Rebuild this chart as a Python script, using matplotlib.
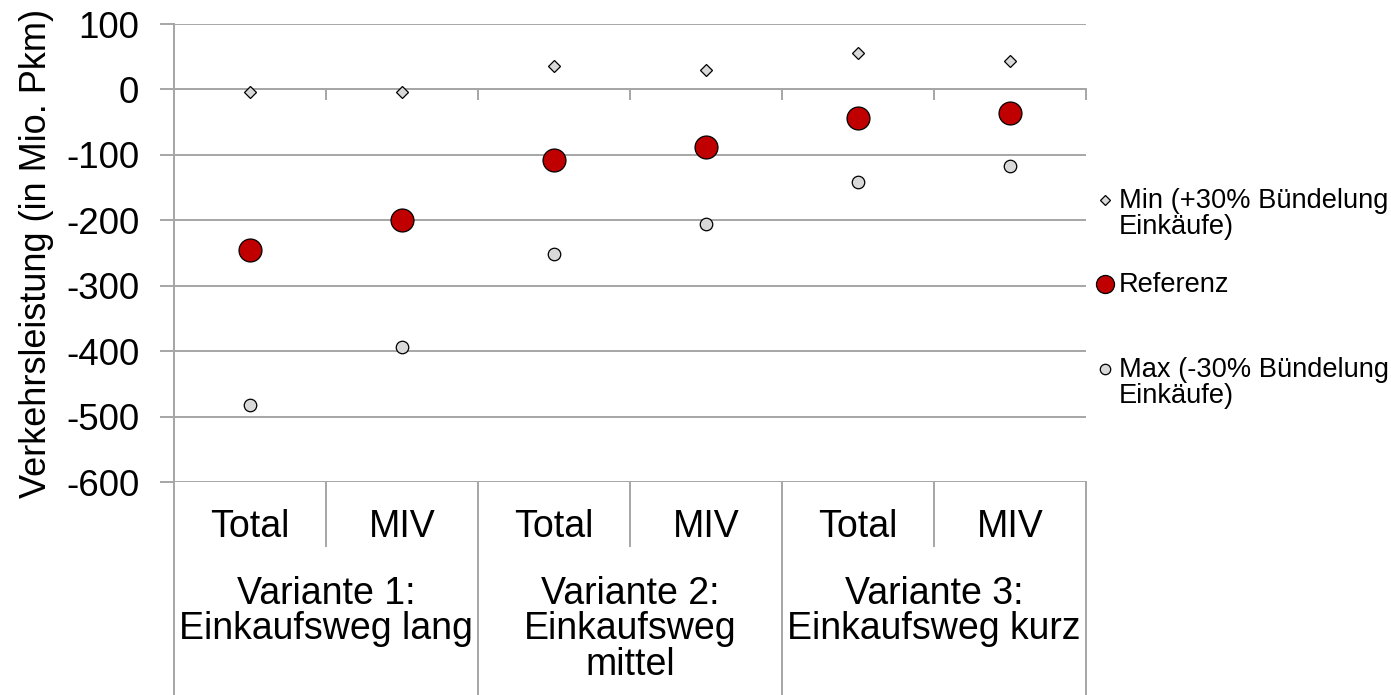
import matplotlib
matplotlib.use("Agg")
import matplotlib.pyplot as plt
from matplotlib.lines import Line2D
import numpy as np

plt.rcParams['font.family'] = ['Liberation Sans', 'DejaVu Sans']
plt.rcParams['axes.unicode_minus'] = False

categories = ["Total", "MIV", "Total", "MIV", "Total", "MIV"]
groups = ["Variante 1:\nEinkaufsweg lang", "Variante 2:\nEinkaufsweg\nmittel", "Variante 3:\nEinkaufsweg kurz"]
min_vals = [-4, -4, 36, 29, 55, 44]
ref_vals = [-245, -200, -108, -88, -44, -36]
max_vals = [-482, -393, -251, -205, -142, -117]
yticks = [100, 0, -100, -200, -300, -400, -500, -600]
series_labels = ["Min (+30% Bündelung\nEinkäufe)", "Referenz", "Max (-30% Bündelung\nEinkäufe)"]

W, H = 1391, 695
fig = plt.figure(figsize=(W / 100, H / 100), dpi=100)
L, R, T, B = 174, 1086, 24, 482
ax = fig.add_axes([L / W, 1 - B / H, (R - L) / W, (B - T) / H])

grid_c = "#a6a6a6"
x = np.arange(len(categories))
ax.set_xlim(-0.5, len(categories) - 0.5)
ax.set_ylim(-600, 100)
ax.set_yticks(yticks)
ax.yaxis.grid(True, color=grid_c, linewidth=1.4)
ax.set_axisbelow(True)
ax.tick_params(axis='y', length=10, width=1.4, color=grid_c, labelsize=26.5, pad=15)
for s in ["top", "right"]:
    ax.spines[s].set_visible(False)
ax.spines["left"].set_color(grid_c)
ax.spines["left"].set_linewidth(1.4)
ax.spines["left"].set_bounds(-600, 100)
ax.spines["bottom"].set_position(("data", 0))
ax.spines["bottom"].set_color(grid_c)
ax.spines["bottom"].set_linewidth(1.4)
ax.set_xticks(np.arange(0.5, len(categories), 1.0))
ax.tick_params(axis='x', length=8, width=1.4, color=grid_c, labelbottom=False, direction='out')

ax.plot(x, max_vals, linestyle='none', marker='o', markersize=9, markerfacecolor="#d9d9d9",
        markeredgecolor="black", markeredgewidth=0.9, zorder=3)
ax.plot(x, min_vals, linestyle='none', marker='D', markersize=6.5, markerfacecolor="#d9d9d9",
        markeredgecolor="black", markeredgewidth=0.9, zorder=3)
ax.plot(x, ref_vals, linestyle='none', marker='o', markersize=16.5, markerfacecolor="#c00000",
        markeredgecolor="black", markeredgewidth=0.9, zorder=4)

ax.set_ylabel("Verkehrsleistung (in Mio. Pkm)", fontsize=26)
ax.yaxis.set_label_coords(-0.132, 0.5)

# hierarchical category axis
tr = ax.get_xaxis_transform()
def frac(py):
    return (B - py) / (B - T)
bottom_f = frac(H + 2)
ax.add_line(Line2D([-0.5, -0.5], [1, bottom_f], transform=tr, color=grid_c, lw=1.4, clip_on=False))
for i in range(len(categories)):
    ax.text(x[i], frac(527), categories[i], transform=tr, ha='center', va='center', fontsize=27)
for b in np.arange(0.5, len(categories), 1.0):
    if int(b + 0.5) % 2 == 1:
        ax.add_line(Line2D([b, b], [0, frac(546)], transform=tr, color=grid_c, lw=1.4, clip_on=False))
    else:
        ax.add_line(Line2D([b, b], [0, bottom_f], transform=tr, color=grid_c, lw=1.4, clip_on=False))
for g, lab in enumerate(groups):
    ax.text(2 * g + 0.5, frac(576), lab, transform=tr, ha='center', va='top', fontsize=27, linespacing=0.98)

# legend
def fx(px):
    return px / W
def fy(py):
    return 1 - py / H
leg = [("D", 5.0, "#d9d9d9", 200), ("o", 13, "#c00000", 284), ("o", 7.5, "#d9d9d9", 369)]
for (m, ms, fc, py), lab in zip(leg, series_labels):
    fig.add_artist(Line2D([fx(1105)], [fy(py)], marker=m, markersize=ms,
                          markerfacecolor=fc, markeredgecolor="black", markeredgewidth=0.9, linestyle='none'))
    fig.text(fx(1119), fy(py - 12), lab, ha='left', va='top', fontsize=19.6, linespacing=1.02)

fig.savefig("out.png", dpi=100)
